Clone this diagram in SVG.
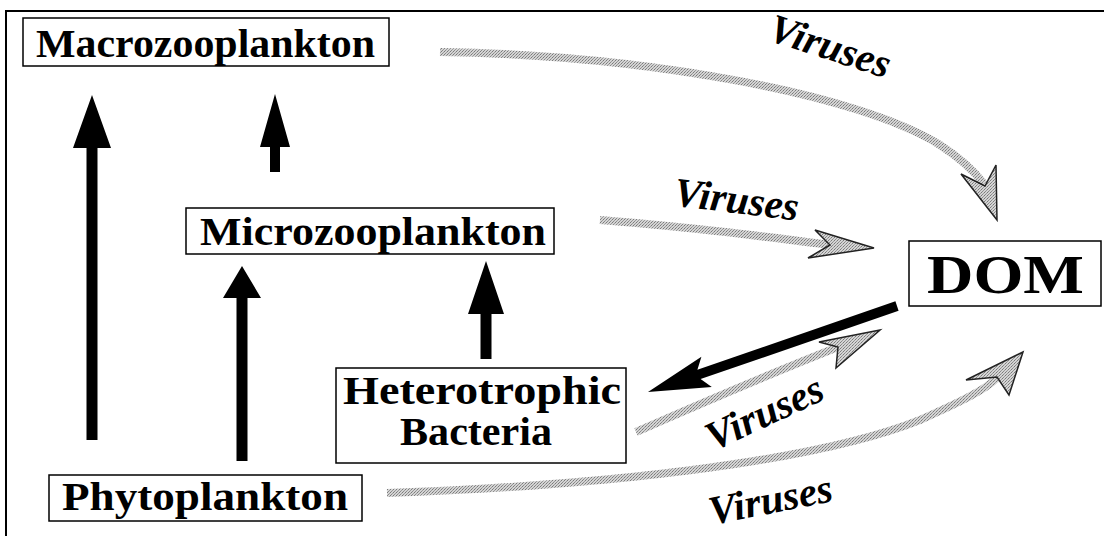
<svg xmlns="http://www.w3.org/2000/svg" width="1104" height="536" viewBox="0 0 1104 536">
<defs>
<style>
.box{fill:#fff;stroke:#000;stroke-width:1.5}
.lbl{font-family:"Liberation Serif","Times New Roman",serif;font-weight:bold;fill:#000}
.vir{font-family:"Liberation Serif","Times New Roman",serif;font-weight:bold;font-style:italic;font-size:41px;fill:#000}
.gray{fill:none;stroke:url(#dither);stroke-width:8}
.ghead{fill:url(#dither);stroke:#222;stroke-width:1.5;stroke-linejoin:miter}
.blk{fill:#000}
</style>
<pattern id="dither" width="3" height="3" patternUnits="userSpaceOnUse">
<rect width="3" height="3" fill="#d4d4d4"/>
<rect width="1" height="1" fill="#7a7a7a"/>
<rect x="2" y="1" width="1" height="1" fill="#9a9a9a"/>
<rect x="1" y="2" width="1" height="1" fill="#8a8a8a"/>
</pattern>
</defs>
<rect width="1104" height="536" fill="#fff"/>
<g id="frame" fill="none" stroke="#000" stroke-width="2">
<path d="M6,536 V11 H1104"/>
</g>

<g id="connectors">
<path class="blk" d="M86.5,440 H97.5 V148 H111 L92,95 L73,148 H86.5 Z"/>
<path class="blk" d="M270,172 H280 V147 H290 L275,94 L260,147 H270 Z"/>
<path class="blk" d="M236.5,461 H247.5 V298 H261 L242,266 L223,298 H236.5 Z"/>
<path class="blk" d="M480.5,359 H491.5 V314 H504 L486,261 L468,314 H480.5 Z"/>
<path class="blk" d="M895.4,301.3 L697.4,369.7 L701.4,356.7 L648,392 L711.8,386.9 L700.6,379.1 L898.6,310.7 Z"/>
<path class="gray" d="M440,52 C650,55 860,95 940,145 C960,158 975,172 984,184"/>
<path class="ghead" d="M997,220 L961,174 L985,186 L996,165 Z"/>
<path class="gray" d="M600,220 C700,228 760,236 830,245"/>
<path class="ghead" d="M874,248 L815,230 L830,245 L808,258 Z"/>
<path class="gray" d="M636,432 C720,395 780,370 838,347"/>
<path class="ghead" d="M880,330 L819,342 L838,347 L836,368 Z"/>
<path class="gray" d="M387,493 C620,485 820,460 920,420 C960,402 985,390 997,378"/>
<path class="ghead" d="M1023,352 L966,380 L997,377 L1009,395 Z"/>
</g>

<g id="macrozooplankton">
<rect class="box" x="23" y="18" width="366" height="48"/>
<text class="lbl" x="36" y="57" font-size="40" textLength="339" lengthAdjust="spacingAndGlyphs">Macrozooplankton</text>
</g>
<g id="microzooplankton">
<rect class="box" x="186" y="208" width="368" height="46"/>
<text class="lbl" x="200" y="245" font-size="39" textLength="346" lengthAdjust="spacingAndGlyphs">Microzooplankton</text>
</g>
<g id="heterotrophic-bacteria">
<rect class="box" x="336" y="368" width="290" height="95"/>
<text class="lbl" x="343" y="404" font-size="40" textLength="278" lengthAdjust="spacingAndGlyphs">Heterotrophic</text>
<text class="lbl" x="400" y="445" font-size="40" textLength="152" lengthAdjust="spacingAndGlyphs">Bacteria</text>
</g>
<g id="phytoplankton">
<rect class="box" x="49" y="475" width="313" height="46"/>
<text class="lbl" x="62" y="510" font-size="39" textLength="286" lengthAdjust="spacingAndGlyphs">Phytoplankton</text>
</g>
<g id="dom">
<rect class="box" x="909" y="241" width="192" height="65"/>
<text class="lbl" x="927" y="293" font-size="54" textLength="157" lengthAdjust="spacingAndGlyphs">DOM</text>
</g>

<g id="labels">
<text class="vir" transform="translate(826,59) rotate(18)" text-anchor="middle">Viruses</text>
<text class="vir" transform="translate(735,213) rotate(7)" text-anchor="middle">Viruses</text>
<text class="vir" transform="translate(770,425) rotate(-25)" text-anchor="middle">Viruses</text>
<text class="vir" transform="translate(773,513) rotate(-11)" text-anchor="middle">Viruses</text>
</g>
</svg>
